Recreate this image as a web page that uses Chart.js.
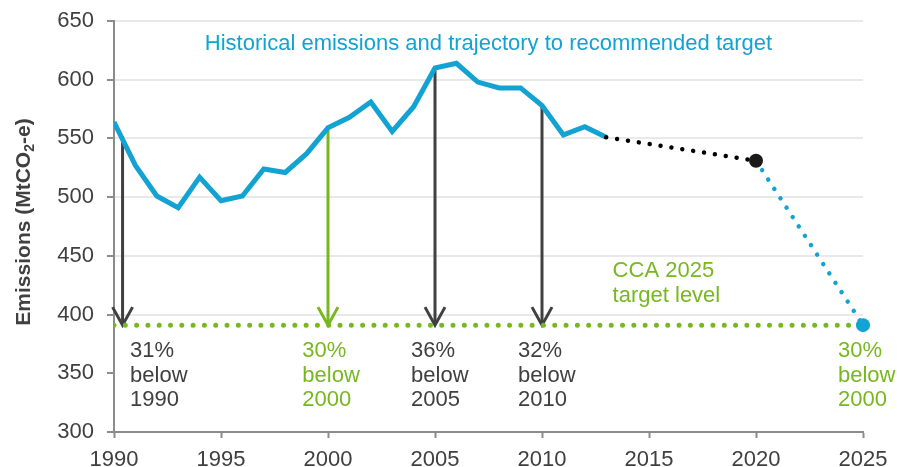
<!DOCTYPE html>
<html>
<head>
<meta charset="utf-8">
<script src="https://cdn.jsdelivr.net/npm/chart.js@4.4.1/dist/chart.umd.min.js"></script>
<style>
  html, body { margin: 0; padding: 0; background: #ffffff; }
  #wrap { width: 897px; height: 467px; position: relative; }
</style>
</head>
<body>
<div id="wrap"><canvas id="chart"></canvas></div>
<script>
// historical emissions (MtCO2-e)
const years = [1990, 1991, 1992, 1993, 1994, 1995, 1996, 1997, 1998, 1999, 2000, 2001,
               2002, 2003, 2004, 2005, 2006, 2007, 2008, 2009, 2010, 2011, 2012, 2013]
const emissions = [564, 527, 501, 491, 517, 497, 501, 524, 521, 537, 559, 568,
                   581, 556, 577, 610, 614, 598, 593, 593, 578, 553, 560, 551]

// trajectory to 2020, then to the recommended target
const projYears = [2013, 2020]
const projValues = [551, 531]
const trajYears = [2020, 2025]
const trajValues = [531, 391]

// CCA 2025 target level
const targetYears = [1990, 2025]
const targetLevel = 391

// arrows from the line down to the target
const arrowYears = [1990.4, 2000, 2005, 2010]
const arrowFrom = [552, 557, 608, 577]
const arrowGreen = [false, true, false, false]

// reduction labels
const labelYears = [1990.75, 1998.8, 2003.88, 2008.88, 2023.83]
const labelTexts = [
    ['31%', 'below', '1990'],
    ['30%', 'below', '2000'],
    ['36%', 'below', '2005'],
    ['32%', 'below', '2010'],
    ['30%', 'below', '2000']
]
const labelGreen = [false, true, false, false, true]

const xTicks = [1990, 1995, 2000, 2005, 2010, 2015, 2020, 2025]

const BLUE = '#12a3d2'
const GREEN = '#77b81f'
const DARK = '#404040'
const AXIS = '#8c8c8c'
const FONT = '"Liberation Sans", Arial, sans-serif'

const toPoints = (xs, ys) => xs.map((x, i) => ({ x: x, y: ys[i] }))

const annotations = {
    id: 'annotations',
    beforeDatasetsDraw(chart) {
        const ctx = chart.ctx
        const xs = chart.scales.x
        const ys = chart.scales.y
        const yEnd = ys.getPixelForValue(targetLevel) + 1

        ctx.save()
        ctx.lineWidth = 3
        ctx.lineJoin = 'miter'
        arrowYears.forEach((yr, i) => {
            const px = xs.getPixelForValue(yr)
            ctx.strokeStyle = arrowGreen[i] ? GREEN : DARK
            ctx.beginPath()
            ctx.moveTo(px, ys.getPixelForValue(arrowFrom[i]))
            ctx.lineTo(px, yEnd - 2)
            ctx.stroke()
            ctx.beginPath()
            ctx.moveTo(px - 10, yEnd - 19)
            ctx.lineTo(px, yEnd - 1)
            ctx.lineTo(px + 10, yEnd - 19)
            ctx.stroke()
        })
        ctx.restore()
    },
    afterDatasetsDraw(chart) {
        const ctx = chart.ctx
        const xs = chart.scales.x
        const ys = chart.scales.y
        const area = chart.chartArea
        const yTarget = ys.getPixelForValue(targetLevel)

        ctx.save()
        ctx.textBaseline = 'middle'
        ctx.textAlign = 'left'
        ctx.font = '22px ' + FONT

        labelTexts.forEach((lines, i) => {
            ctx.fillStyle = labelGreen[i] ? GREEN : DARK
            const px = xs.getPixelForValue(labelYears[i])
            lines.forEach((t, j) => {
                ctx.fillText(t, px, yTarget + 26 + j * 24.5)
            })
        })

        // target label
        ctx.fillStyle = GREEN
        const cx = xs.getPixelForValue(2013.3)
        ctx.fillText('CCA 2025', cx, 271)
        ctx.fillText('target level', cx, 296)

        // series title
        ctx.fillStyle = BLUE
        ctx.textAlign = 'center'
        ctx.fillText('Historical emissions and trajectory to recommended target', (area.left + area.right) / 2, 44)

        // y axis title with subscript
        ctx.fillStyle = DARK
        ctx.textBaseline = 'alphabetic'
        ctx.textAlign = 'left'
        ctx.translate(30, 222)
        ctx.rotate(-Math.PI / 2)
        const bold = 'bold 21px ' + FONT
        const sub = 'bold 14px ' + FONT
        ctx.font = bold
        const w1 = ctx.measureText('Emissions (MtCO').width
        const w3 = ctx.measureText('-e)').width
        ctx.font = sub
        const w2 = ctx.measureText('2').width
        let x0 = -(w1 + w2 + w3) / 2
        ctx.font = bold
        ctx.fillText('Emissions (MtCO', x0, 0)
        ctx.font = sub
        ctx.fillText('2', x0 + w1, 4)
        ctx.font = bold
        ctx.fillText('-e)', x0 + w1 + w2, 0)
        ctx.restore()
    }
}

const ctx = document.getElementById('chart').getContext('2d')

new Chart(ctx, {
    type: 'line',
    data: {
        datasets: [
            {
                // 2013 -> 2020 projection
                data: toPoints(projYears, projValues),
                borderColor: '#000000',
                borderWidth: 4.5,
                borderDash: [0.001, 11],
                borderCapStyle: 'round',
                pointRadius: [0, 7],
                pointBackgroundColor: '#1a1a1a',
                pointBorderColor: '#1a1a1a',
                pointBorderWidth: 0,
                pointHoverRadius: 0,
                clip: false
            },
            {
                // 2020 -> 2025 trajectory
                data: toPoints(trajYears, trajValues),
                borderColor: BLUE,
                borderWidth: 4.5,
                borderDash: [0.001, 11.2],
                borderCapStyle: 'round',
                pointRadius: [0, 7],
                pointBackgroundColor: BLUE,
                pointBorderColor: BLUE,
                pointBorderWidth: 0,
                pointHoverRadius: 0,
                clip: false
            },
            {
                // historical
                data: toPoints(years, emissions),
                borderColor: BLUE,
                borderWidth: 5,
                borderJoinStyle: 'miter',
                pointRadius: 0,
                tension: 0
            },
            {
                // target level
                data: toPoints(targetYears, targetYears.map(() => targetLevel)),
                borderColor: GREEN,
                borderWidth: 5,
                borderDash: [0.001, 11.3],
                borderCapStyle: 'round',
                pointRadius: 0
            }
        ]
    },
    options: {
        responsive: true,
        maintainAspectRatio: false,
        animation: false,
        events: [],
        layout: {
            padding: { top: 21, right: 34, left: 0, bottom: 0 }
        },
        plugins: {
            legend: { display: false },
            tooltip: { enabled: false }
        },
        scales: {
            x: {
                type: 'linear',
                min: 1990,
                max: 2025,
                afterBuildTicks: (scale) => {
                    scale.ticks = xTicks.map(v => ({ value: v }))
                },
                afterFit: (scale) => {
                    scale.height = 35
                    scale.paddingLeft = 0
                    scale.paddingRight = 0
                },
                border: { color: AXIS, width: 2 },
                grid: {
                    drawOnChartArea: false,
                    drawTicks: true,
                    tickLength: 6,
                    tickWidth: 2,
                    tickColor: AXIS
                },
                ticks: {
                    color: DARK,
                    padding: 9,
                    maxRotation: 0,
                    font: { family: FONT, size: 22 },
                    callback: (v) => String(v)
                }
            },
            y: {
                min: 300,
                max: 650,
                afterFit: (scale) => {
                    scale.width = 114
                    scale.paddingTop = 0
                    scale.paddingBottom = 0
                },
                border: { color: AXIS, width: 2 },
                grid: {
                    color: (c) => (c.tick && c.tick.value >= 400 ? '#e9e9e9' : 'rgba(0,0,0,0)'),
                    lineWidth: 2,
                    tickLength: 7,
                    tickWidth: 2,
                    tickColor: AXIS
                },
                ticks: {
                    stepSize: 50,
                    color: DARK,
                    padding: 13,
                    font: { family: FONT, size: 22 }
                }
            }
        }
    },
    plugins: [annotations]
})
</script>
</body>
</html>
